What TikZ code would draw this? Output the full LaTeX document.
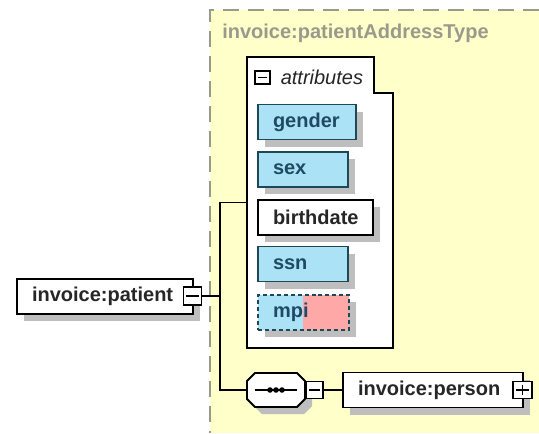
\documentclass[tikz,border=0pt]{standalone}
\usepackage{fontspec}
\setmainfont{Liberation Sans}
\usetikzlibrary{shadows}
\definecolor{bgyellow}{HTML}{FFFFC9}
\definecolor{dashgray}{HTML}{9A9A8A}
\definecolor{titlegray}{HTML}{9A9A8C}
\definecolor{attrblue}{HTML}{ACE2F5}
\definecolor{attrborder}{HTML}{1D4858}
\definecolor{attrtext}{HTML}{1F4A66}
\definecolor{pinkfill}{HTML}{FFA8A8}
\definecolor{shadowgray}{HTML}{BEBEBE}
\definecolor{darktext}{HTML}{262626}
\begin{document}
\begin{tikzpicture}[x=0.75pt,y=-0.75pt,
  lbl/.style={font=\bfseries\fontsize{15}{18}\selectfont},
  shd/.style={general shadow={fill=shadowgray, shadow xshift=5.25pt, shadow yshift=-5.25pt}},
  basebox/.style={rectangle, lbl, shd, line width=1.4pt, minimum height=26.25pt, inner xsep=11.25pt, inner ysep=0pt, align=left},
  namebox/.style={basebox, draw=black, fill=white, text=darktext},
  attrbox/.style={basebox, draw=attrborder, fill=attrblue, text=attrtext},
  tog/.style={rectangle, draw=black, fill=white, line width=1.1pt, inner sep=0pt},
  togminus/.style={tog, path picture={\draw[line width=1.2pt] ([xshift=2.2pt]path picture bounding box.west) -- ([xshift=-2.2pt]path picture bounding box.east);}},
  togplus/.style={tog, path picture={\draw[line width=1.2pt] ([xshift=2.2pt]path picture bounding box.west) -- ([xshift=-2.2pt]path picture bounding box.east) ([yshift=-2.2pt]path picture bounding box.north) -- ([yshift=2.2pt]path picture bounding box.south);}},
  conn/.style={line width=1.2pt, draw=black}
]
\useasboundingbox (0,0) rectangle (539,433);
\fill[white] (0,0) rectangle (539,433);
% type area
\fill[bgyellow] (210,10) rectangle (539,433);
\draw[dashgray, line width=1.1pt, dash pattern=on 12pt off 6.75pt] (539,10) -- (210,10) -- (210,433);
\node[lbl, text=titlegray, anchor=west, inner sep=0pt] (title) at (222,33) {invoice:patientAddressType};

% attributes group
\node[minimum width=109.5pt, minimum height=218.25pt, inner sep=0pt] (attr) at (320,202.5) {};
\draw[line width=1.4pt, fill=white] (attr.north west) -- ([xshift=95.25pt]attr.north west) -- ([xshift=95.25pt,yshift=-27pt]attr.north west) -- ([yshift=-27pt]attr.north east) -- (attr.south east) -- (attr.south west) -- cycle;
\node[togminus, minimum width=11.25pt, minimum height=9.75pt] (am) at (262.5,77.5) {};
\node[anchor=west, inner sep=0pt, font=\itshape\fontsize{15}{18}\selectfont, text=darktext] (attrlabel) at (280.5,77) {attributes};

\node[attrbox, minimum width=73.5pt, text width=51pt] (gender) at (307,122) {gender};
\node[attrbox, minimum width=67.5pt, text width=45pt] (sex) at (303,169.5) {sex};
\node[namebox, minimum width=86.25pt, text width=63.75pt] (birthdate) at (315.5,217.5) {birthdate};
\node[attrbox, minimum width=67.5pt, text width=45pt] (ssn) at (303,264) {ssn};
\node[basebox, fill=pinkfill, draw=attrborder, text=attrtext, dash pattern=on 3pt off 2.2pt, minimum width=68.25pt, text width=45.75pt,
  path picture={\fill[attrblue] (path picture bounding box.south west) rectangle ([xshift=33.75pt]path picture bounding box.north west);}] (mpi) at (303.5,312.5) {mpi};

% patient element
\node[namebox, minimum width=132pt, text width=109.5pt] (patient) at (105,296.5) {invoice:patient};
\node[togminus, minimum size=13.5pt] (pm) at (192.5,296) {};
\coordinate (j) at (220,296);

% sequence compositor
\node[minimum width=43.5pt, minimum height=25.5pt, inner sep=0pt] (seq) at (276,390) {};
\begin{scope}[shift={(seq.center)}, xshift=5.25pt, yshift=-5.25pt]
  \fill[shadowgray] (-29,-9) -- (-21,-17) -- (21,-17) -- (29,-9) -- (29,9) -- (21,17) -- (-21,17) -- (-29,9) -- cycle;
\end{scope}
\begin{scope}[shift={(seq.center)}]
  \draw[line width=1.4pt, fill=white] (-29,-9) -- (-21,-17) -- (21,-17) -- (29,-9) -- (29,9) -- (21,17) -- (-21,17) -- (-29,9) -- cycle;
  \draw[line width=1.3pt] (-21,0) -- (21,0);
  \fill (-6,0) circle (2.1pt) (0,0) circle (2.1pt) (6,0) circle (2.1pt);
\end{scope}
\node[togminus, minimum size=12.75pt] (sm) at (314.5,390) {};

% person element
\node[namebox, minimum width=135pt, text width=112.5pt] (person) at (433,390) {invoice:person};
\node[togplus, minimum width=14pt, minimum height=12.5pt] (pp) at (522.5,390) {};

% connectors
\draw[conn] (pm.east) -- (j);
\draw[conn] (j) |- (attr.west);
\draw[conn] (j) |- (seq.west);
\draw[conn] (sm.east) -- (person.west);
\end{tikzpicture}
\end{document}
